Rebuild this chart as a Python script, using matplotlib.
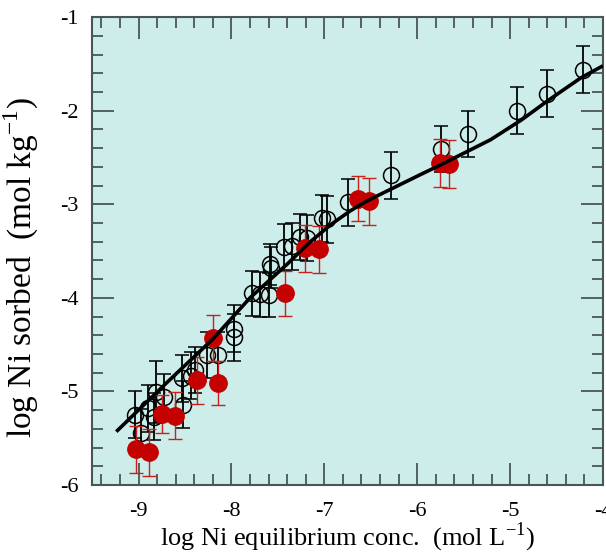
import matplotlib
matplotlib.use("Agg")
import matplotlib.pyplot as plt
from matplotlib.ticker import MultipleLocator

plt.rcParams['font.family'] = ['Liberation Serif', 'DejaVu Serif']
plt.rcParams['axes.unicode_minus'] = False
plt.rcParams['mathtext.fontset'] = 'custom'
plt.rcParams['mathtext.rm'] = 'Liberation Serif'

# open circles (measured data)
open_x = [-9.04, -8.97, -8.90, -8.83, -8.81, -8.73, -8.52, -8.53, -8.44, -8.39,
          -8.26, -8.15, -7.97, -7.97, -7.78, -7.69, -7.60, -7.58, -7.57, -7.43,
          -7.35, -7.26, -7.19, -7.03, -6.97, -6.75, -6.28, -5.74, -5.45, -4.93,
          -4.60, -4.22]
open_y = [-5.25, -5.44, -5.18, -5.27, -5.01, -5.06, -5.14, -4.86, -4.83, -4.77,
          -4.61, -4.61, -4.33, -4.42, -3.95, -3.96, -3.97, -3.64, -3.68, -3.46,
          -3.45, -3.35, -3.36, -3.15, -3.16, -2.98, -2.69, -2.41, -2.25, -2.00,
          -1.82, -1.56]
open_err = [0.25, 0.25, 0.25, 0.25, 0.33, 0.25, 0.25, 0.25, 0.25, 0.25,
            0.25, 0.25, 0.25, 0.25, 0.24, 0.24, 0.24, 0.22, 0.22, 0.25,
            0.25, 0.25, 0.25, 0.25, 0.25, 0.25, 0.25, 0.25, 0.25, 0.25,
            0.25, 0.25]

# filled red circles
red_x = [-9.03, -8.89, -8.75, -8.61, -8.37, -8.15, -8.20, -7.42, -7.21, -7.06,
         -6.64, -6.52, -5.75, -5.66]
red_y = [-5.62, -5.65, -5.24, -5.26, -4.88, -4.91, -4.43, -3.95, -3.47, -3.48,
         -2.94, -2.97, -2.56, -2.57]
red_err = [0.25, 0.25, 0.20, 0.25, 0.25, 0.24, 0.25, 0.24, 0.25, 0.25,
           0.24, 0.25, 0.26, 0.26]

# model curve
fit_x = [-9.24, -8.70, -8.20, -7.80, -7.40, -7.15, -6.92, -6.72, -6.55, -6.43,
         -5.96, -5.75, -5.21, -4.88, -4.59, -4.24, -4.00]
fit_y = [-5.43, -4.91, -4.44, -4.00, -3.64, -3.40, -3.21, -3.07, -2.97, -2.91,
         -2.68, -2.58, -2.31, -2.10, -1.89, -1.65, -1.52]

fig = plt.figure(figsize=(6.06, 5.53), dpi=100)
ax = fig.add_axes([0.152, 0.123, 0.843, 0.846])
ax.set_facecolor('#ccede9')

ax.errorbar(open_x, open_y, yerr=open_err, fmt='o', mfc='none', mec='black',
            mew=1.1, ms=11.5, ecolor='black', elinewidth=1.3, capsize=5,
            capthick=1.3, zorder=3)
ax.errorbar(red_x, red_y, yerr=red_err, fmt='o', mfc='#c40000', mec='#c40000',
            ms=12.5, ecolor='#c8201a', elinewidth=1.0, capsize=5,
            capthick=1.0, zorder=4)
ax.plot(fit_x, fit_y, color='black', lw=2.6, zorder=5, solid_capstyle='butt',
        solid_joinstyle='round')

ax.set_xlim(-9.5, -4)
ax.set_ylim(-6, -1)
ax.xaxis.set_major_locator(MultipleLocator(1))
ax.xaxis.set_minor_locator(MultipleLocator(0.2))
ax.yaxis.set_major_locator(MultipleLocator(1))
ax.yaxis.set_minor_locator(MultipleLocator(0.2))

spine_col = '#4a5656'
for s in ax.spines.values():
    s.set_color(spine_col)
    s.set_linewidth(1.5)
ax.tick_params(which='both', direction='in', top=True, right=True,
               colors=spine_col, labelcolor='black', width=1.3, labelsize=16)
ax.tick_params(which='major', length=16, pad=10)
ax.tick_params(axis='x', which='major', pad=12)
ax.tick_params(which='minor', length=8)

ax.set_xlabel('log Ni equilibrium conc.  (mol L$^{\\mathregular{-1}}$)',
              fontsize=19, labelpad=0)
ax.set_ylabel('log Ni sorbed  (mol kg$^{\\mathregular{-1}}$)',
              fontsize=24)
ax.yaxis.set_label_coords(-0.10, 0.465)

fig.savefig('out.png', dpi=100)
